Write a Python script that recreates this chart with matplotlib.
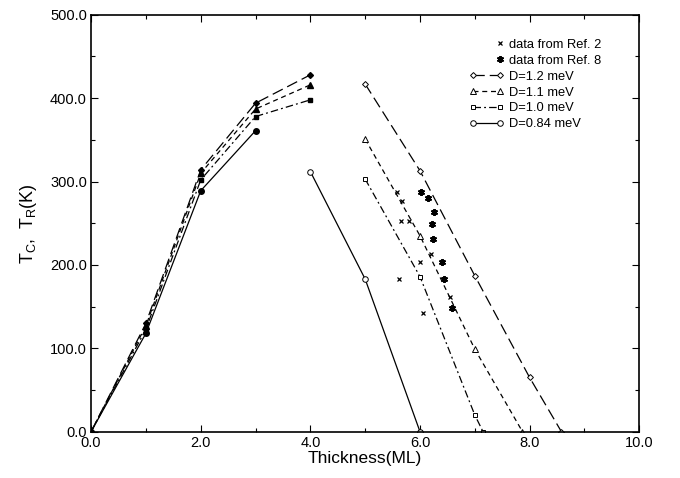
import numpy as np
import matplotlib
matplotlib.use('Agg')
import matplotlib.pyplot as plt
from matplotlib.ticker import MultipleLocator, FormatStrFormatter
from matplotlib.lines import Line2D
from matplotlib.legend_handler import HandlerLine2D

plt.rcParams['font.family'] = ['Liberation Sans', 'DejaVu Sans']

# Tc curves (filled markers), thickness 0..4 ML
x_tc = [0, 1, 2, 3, 4]
tc_12 = [0, 130, 314, 394, 428]
tc_11 = [0, 127, 310, 387, 416]
tc_10 = [0, 123, 302, 378, 398]
tc_084 = [0, 118, 289, 361]

# T_R curves (open markers)
x_r12 = [5, 6, 7, 8, 8.58]
r_12 = [417, 313, 187, 65, 0]
x_r11 = [5, 6, 7, 7.87]
r_11 = [351, 235, 99, 0]
x_r10 = [5, 6, 7, 7.15]
r_10 = [303, 186, 20, 0]
x_r084 = [4, 5, 6]
r_084 = [312, 183, 0]

# experimental data
ref2_x = [5.59, 5.67, 5.66, 5.80, 6.20, 6.00, 5.62, 6.55, 6.05]
ref2_y = [287, 277, 253, 253, 213, 203, 183, 162, 142]
ref8_x = [6.02, 6.14, 6.25, 6.22, 6.24, 6.41, 6.44, 6.58]
ref8_y = [288, 280, 264, 249, 231, 203, 183, 148]


class RightMarker(HandlerLine2D):
    # put the single symbol at the right end of the handle, next to the text
    def create_artists(self, *args, **kw):
        arts = super().create_artists(*args, **kw)
        for a in arts:
            a.set_markevery([len(a.get_xdata()) - 1])
        return arts


fig = plt.figure(figsize=(6.8, 4.78), dpi=100)
ax = fig.add_axes([0.134, 0.097, 0.806, 0.872])

ls12 = (0, (9, 4))
ls11 = (0, (4, 3))
ls10 = (0, (6, 2.5, 1.5, 2.5))
ms = 4
lw = 0.9

# filled Tc branch
ax.plot(x_tc, tc_12, color='black', lw=lw, ls=ls12, marker='D', ms=ms-1, mfc='black')
ax.plot(x_tc, tc_11, color='black', lw=lw, ls=ls11, marker='^', ms=ms, mfc='black')
ax.plot(x_tc, tc_10, color='black', lw=lw, ls=ls10, marker='s', ms=ms-0.5, mfc='black')
ax.plot(x_tc[:4], tc_084, color='black', lw=lw, ls='-', marker='o', ms=ms, mfc='black')

# data points
h2, = ax.plot(ref2_x, ref2_y, ls='none', marker='x', ms=3.5, mew=0.9, color='black', label='data from Ref. 2')
h8, = ax.plot(ref8_x, ref8_y, ls='none', marker=(6, 2, 0), ms=5, mew=1.4, color='black', label='data from Ref. 8')

# open T_R branch
lines = []
lines += ax.plot(x_r12, r_12, color='black', lw=lw, ls=ls12, marker='D', ms=ms-1, mfc='white', mew=0.7, label='D=1.2 meV')
lines += ax.plot(x_r11, r_11, color='black', lw=lw, ls=ls11, marker='^', ms=ms, mfc='white', mew=0.7, label='D=1.1 meV')
lines += ax.plot(x_r10, r_10, color='black', lw=lw, ls=ls10, marker='s', ms=ms-0.5, mfc='white', mew=0.7, label='D=1.0 meV')
lines += ax.plot(x_r084, r_084, color='black', lw=lw, ls='-', marker='o', ms=ms, mfc='white', mew=0.7, label='D=0.84 meV')

ax.set_xlim(0, 10)
ax.set_ylim(0, 500)
ax.xaxis.set_major_locator(MultipleLocator(2))
ax.xaxis.set_minor_locator(MultipleLocator(1))
ax.yaxis.set_major_locator(MultipleLocator(100))
ax.yaxis.set_minor_locator(MultipleLocator(50))
ax.xaxis.set_major_formatter(FormatStrFormatter('%.1f'))
ax.yaxis.set_major_formatter(FormatStrFormatter('%.1f'))
ax.tick_params(which='both', direction='in', top=True, right=True, labelsize=10.5, width=0.8)
ax.tick_params(which='major', length=5, pad=3)
ax.tick_params(which='minor', length=3)
for s in ax.spines.values():
    s.set_linewidth(1.2)

ax.set_xlabel('Thickness(ML)', fontsize=12.5, labelpad=1)
ax.set_ylabel(r'$\mathregular{T_C,\ T_R(K)}$', fontsize=13, labelpad=8)

ax.legend(handles=[h2, h8] + lines, loc='upper left', bbox_to_anchor=(0.678, 0.958), frameon=False,
          fontsize=9.3, numpoints=2, handlelength=2.7, handletextpad=0.35, labelspacing=0.3, borderpad=0,
          handler_map={h2: RightMarker(), h8: RightMarker()})

plt.savefig('out.png', dpi=100)
